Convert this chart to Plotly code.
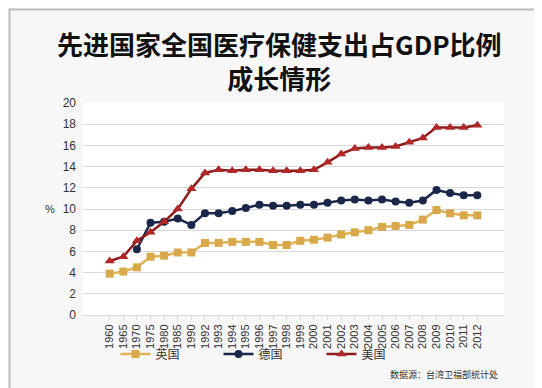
import plotly.graph_objects as go

years = ["1960","1965","1970","1975","1980","1985","1990","1992","1993","1994","1995",
         "1996","1997","1998","1999","2000","2001","2002","2003","2004","2005","2006",
         "2007","2008","2009","2010","2011","2012"]
uk = [3.9,4.1,4.5,5.5,5.6,5.9,5.9,6.8,6.8,6.9,6.9,6.9,6.6,6.6,7.0,7.1,7.3,7.6,7.8,8.0,
      8.3,8.4,8.5,9.0,9.9,9.6,9.4,9.4]
de = [None,None,6.2,8.7,8.8,9.1,8.5,9.6,9.6,9.8,10.1,10.4,10.3,10.3,10.4,10.4,10.6,10.8,
      10.9,10.8,10.9,10.7,10.6,10.8,11.8,11.5,11.3,11.3]
us = [5.1,5.5,7.0,7.8,8.8,10.0,11.9,13.4,13.7,13.6,13.7,13.7,13.6,13.6,13.6,13.7,14.4,
      15.2,15.7,15.8,15.8,15.9,16.3,16.7,17.7,17.7,17.7,17.9]
names = ["英国", "德国", "美国"]
yticks = [0,2,4,6,8,10,12,14,16,18,20]

font = "Noto Sans CJK SC, Liberation Sans, Arial, sans-serif"
W, H = 542, 388
L, R, T, B = 75, 46, 95, 81
pw, ph = W - L - R, H - T - B

def px(x):
    return (x - L) / pw

def py(y):
    return (H - B - y) / ph

fig = go.Figure()
fig.add_trace(go.Scatter(x=years, y=uk, name=names[0], mode="lines+markers",
                         line=dict(color="#e0b354", width=2.5),
                         marker=dict(symbol="square", size=8, color="#d8a84a")))
fig.add_trace(go.Scatter(x=years, y=de, name=names[1], mode="lines+markers",
                         line=dict(color="#1b2748", width=2.5),
                         marker=dict(symbol="circle", size=8, color="#1b2748")))
fig.add_trace(go.Scatter(x=years, y=us, name=names[2], mode="lines+markers",
                         line=dict(color="#8e1c1c", width=2.5),
                         marker=dict(symbol="triangle-up", size=9, color="#b02828")))

fig.update_layout(
    width=W, height=H,
    margin=dict(l=L, r=R, t=T, b=B, autoexpand=False),
    paper_bgcolor="#f7f7f7", plot_bgcolor="#ffffff",
    font=dict(family=font, size=12, color="#333333"),
    showlegend=True,
    legend=dict(orientation="h", x=px(262), xanchor="center", y=py(346), yanchor="middle",
                font=dict(size=12, color="#333333"), bgcolor="rgba(0,0,0,0)",
                entrywidth=58, entrywidthmode="pixels", tracegroupgap=0),
    xaxis=dict(type="category", tickangle=-90, tickfont=dict(size=11, family="Liberation Sans, Arial"),
               showgrid=False, showline=True, linecolor="#d9d9d9", ticks="outside",
               ticklen=4, tickcolor="#d9d9d9", automargin=False),
    yaxis=dict(range=[0, 20], tickvals=yticks, tickfont=dict(size=12, family="Liberation Sans, Arial"),
               showgrid=True, gridcolor="#d9d9d9", gridwidth=1, zeroline=False,
               ticklabelstandoff=6, automargin=False),
)
fig.add_annotation(text="<b>先进国家全国医疗保健支出占GDP比例<br>成长情形</b>", xref="paper",
                   yref="paper", x=px(271), y=py(53), yanchor="middle", showarrow=False,
                   font=dict(size=26, color="#111111", family=font))
fig.add_annotation(text="%", xref="paper", yref="y", x=px(49), y=10, showarrow=False,
                   xanchor="right", font=dict(size=11, family="Liberation Sans, Arial"))
fig.add_annotation(text="数据源：台湾卫福部统计处", xref="paper", yref="paper", x=px(492),
                   y=py(366), xanchor="right", yanchor="middle", showarrow=False,
                   font=dict(size=9, color="#333333", family=font))
fig.add_shape(type="rect", xref="paper", yref="paper", x0=px(1.5), x1=px(W - 2.5),
              y0=py(H - 2.5), y1=py(1.5), line=dict(color="#bdbdbd", width=2), layer="above")
fig.write_html("out.html")
